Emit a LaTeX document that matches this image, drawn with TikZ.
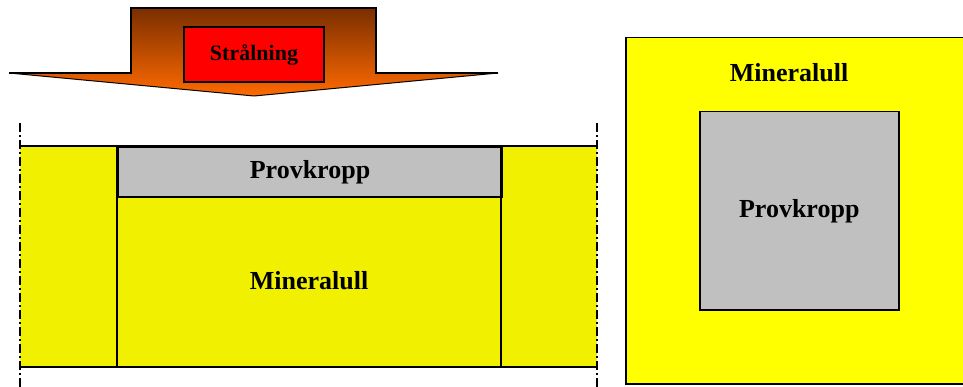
\documentclass[tikz,border=0pt]{standalone}
\usepackage{fontspec}
\setmainfont{Liberation Serif}
\definecolor{wool}{HTML}{F0F000}
\definecolor{woolbright}{HTML}{FFFF00}
\definecolor{specimen}{HTML}{C0C0C0}
\definecolor{arrowtop}{HTML}{7A2E00}
\definecolor{arrowbot}{HTML}{FF6A00}
\tikzset{
  lbl/.style={font=\bfseries\fontsize{26}{30}\selectfont, inner sep=0pt},
  partbox/.style={draw=black, line width=2pt},
  cutline/.style={line width=2pt, dash pattern=on 9pt off 3pt on 2pt off 3pt},
}
\begin{document}
\begin{tikzpicture}[x=1pt, y=-1pt]
\useasboundingbox (0,0) rectangle (963,387);
\clip (0,0) rectangle (963,387);

% radiation arrow with vertical gradient
\path[top color=arrowtop, bottom color=arrowbot]
  (131,8) -- (376,8) -- (376,73) -- (498,73) -- (254,96) -- (9,73) -- (131,73) -- cycle;
\draw[line width=1.5pt, line join=miter]
  (9,73) -- (131,73) -- (131,8) -- (376,8) -- (376,73) -- (498,73);
\draw[line width=1pt] (9,73) -- (254,96) -- (498,73);
\node[draw=black, line width=1.2pt, fill=red, minimum width=140pt, minimum height=55pt,
      inner sep=0pt, font=\bfseries\fontsize{22}{26}\selectfont] (rad) at (254,54.5) {Strålning};

% section view: insulation with specimen on top
\fill[wool] (20,146) rectangle (597,367);
\node[partbox, fill=specimen, minimum width=384pt, minimum height=50pt, anchor=north west,
      inner sep=0pt] (spec) at (117,146) {};
\node[lbl] (specL) at (spec.center) {Provkropp};
\draw[line width=2.5pt] (20,146) -- (597,146);
\draw[line width=2.5pt] (20,367) -- (597,367);
\draw[line width=2.5pt] (117,146) -- (117,367);
\draw[line width=2.5pt] (501,146) -- (501,367);
\node[lbl] (woolL) at (309,281) {Mineralull};

% cut lines at the section edges
\coordinate (cl1) at (20,123);
\coordinate (cl2) at (20,390);
\coordinate (cr1) at (597,123);
\coordinate (cr2) at (597,390);
\draw[cutline] (cl1) -- (cl2);
\draw[cutline] (cr1) -- (cr2);

% plan view
\node[draw=black, line width=1.5pt, fill=woolbright, anchor=north west,
      minimum width=360pt, minimum height=346pt, inner sep=0pt] (plan) at (625,37) {};
\node[draw=black, line width=1.5pt, fill=specimen, anchor=north west,
      minimum width=199pt, minimum height=198pt, inner sep=0pt] (core) at (699,111) {};
\node[lbl] (planL) at (789,73) {Mineralull};
\node[lbl] (coreL) at (core.center) {Provkropp};
\end{tikzpicture}
\end{document}
